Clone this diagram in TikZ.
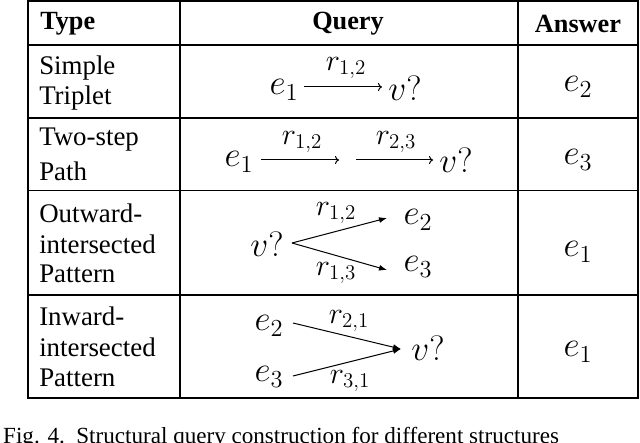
\documentclass[tikz,border=0pt]{standalone}
\usepackage{fontspec}
\setmainfont{Liberation Serif}
\usetikzlibrary{arrows.meta}
\begin{document}
\begin{tikzpicture}[x=1pt,y=-1pt,
  grid/.style={line width=1.2pt},
  lbl/.style={font=\fontsize{21}{23}\selectfont, anchor=west, inner sep=0pt, scale=1.28},
  hdr/.style={font=\fontsize{21}{23}\selectfont\bfseries, inner sep=0pt, scale=1.25},
  m/.style={font=\fontsize{22}{24}\selectfont, inner sep=1pt, scale=1.7},
  rl/.style={font=\fontsize{17}{19}\selectfont, inner sep=0pt, scale=1.75},
  thin/.style={line width=1pt,-{To[length=4pt,width=8pt]}},
  fat/.style={line width=1pt,-{Latex[length=8pt,width=6pt]}}]
\useasboundingbox (0,0) rectangle (640,443);
\begin{scope}
\clip (0,0) rectangle (640,443);
% table
\draw[grid] (28,1) rectangle (638,398);
\foreach \y in {45,118,190.5,295} \draw[grid] (28,\y) -- (638,\y);
\foreach \x in {180,518} \draw[grid] (\x,1) -- (\x,398);
% header
\node[hdr,anchor=west] (ht) at (40,24) {Type};
\node[hdr] (hq) at (348,24) {Query};
\node[hdr] (ha) at (578,24) {Answer};
% types
\node[lbl] (t1a) at (39,68) {Simple};
\node[lbl] (t1b) at (39,98) {Triplet};
\node[lbl] (t2a) at (39,140) {Two-step};
\node[lbl] (t2b) at (39,171) {Path};
\node[lbl] (t3a) at (39,213) {Outward-};
\node[lbl] (t3b) at (39,244) {intersected};
\node[lbl] (t3c) at (39,274) {Pattern};
\node[lbl] (t4a) at (39,316) {Inward-};
\node[lbl] (t4b) at (39,347) {intersected};
\node[lbl] (t4c) at (39,378) {Pattern};
% answers
\node[m] (a1) at (578,87) {$e_2$};
\node[m] (a2) at (578,160) {$e_3$};
\node[m] (a3) at (578,252) {$e_1$};
\node[m] (a4) at (578,352) {$e_1$};
% row 1
\node[m] (r1e) at (284,90) {$e_1$};
\node[m] (r1v) at (405,88) {$v?$};
\coordinate (r1s) at (304,87); \coordinate (r1t) at (382,87);
\draw[thin] (r1s) -- (r1t);
\node[rl] (r1l) at (346,68) {$r_{1,2}$};
% row 2
\node[m] (r2e) at (239,162) {$e_1$};
\node[m] (r2v) at (456,160) {$v?$};
\coordinate (r2a) at (261,160); \coordinate (r2b) at (339,160);
\coordinate (r2c) at (356,160); \coordinate (r2d) at (433,160);
\draw[thin] (r2a) -- (r2b);
\draw[thin] (r2c) -- (r2d);
\node[rl] (r2l1) at (302,142) {$r_{1,2}$};
\node[rl] (r2l2) at (396,142) {$r_{2,3}$};
% row 3
\node[m] (r3v) at (267,244) {$v?$};
\coordinate (r3o) at (292,243);
\coordinate (r3u) at (387,218); \coordinate (r3d) at (387,270);
\draw[fat] (r3o) -- (r3u);
\draw[fat] (r3o) -- (r3d);
\node[m] (r3e2) at (418,220) {$e_2$};
\node[m] (r3e3) at (418,267) {$e_3$};
\node[rl] (r3l1) at (336,213) {$r_{1,2}$};
\node[rl] (r3l2) at (336,273) {$r_{1,3}$};
% row 4
\node[m] (r4e2) at (269,326) {$e_2$};
\node[m] (r4e3) at (269,377) {$e_3$};
\node[m] (r4v) at (428,348) {$v?$};
\coordinate (r4s1) at (293,323); \coordinate (r4s2) at (293,376);
\coordinate (r4t) at (401,349);
\draw[fat] (r4s1) -- (r4t);
\draw[fat] (r4s2) -- (r4t);
\node[rl] (r4l1) at (349,321) {$r_{2,1}$};
\node[rl] (r4l2) at (350,381) {$r_{3,1}$};
% caption
\node[font=\fontsize{21}{23}\selectfont, anchor=west, inner sep=0pt, scale=1.1] (cap) at (3,438) {Fig. 4.\enspace Structural query construction for different structures};
\end{scope}
\end{tikzpicture}
\end{document}
